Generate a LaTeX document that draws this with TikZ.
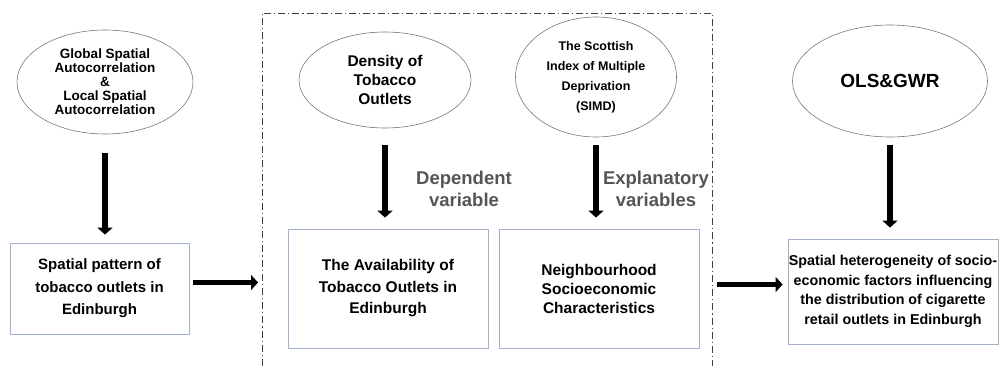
\documentclass[tikz,border=0pt]{standalone}
\usepackage{fontspec}
\setmainfont{Liberation Sans}
\usepackage{tikz}
\usetikzlibrary{shapes.geometric,arrows.meta}
\definecolor{ellline}{RGB}{120,120,120}
\definecolor{boxline}{RGB}{165,178,205}
\definecolor{labgrey}{RGB}{85,85,85}
\begin{document}
\begin{tikzpicture}[x=1pt,y=-1pt,
    method/.style={ellipse,draw=ellline,line width=0.6pt,inner sep=0pt,align=center,font=\bfseries},
    result/.style={rectangle,draw=boxline,line width=0.8pt,inner sep=0pt,align=center,font=\bfseries},
    bigarrow/.style={line width=5.5pt,-{Triangle[width=15pt,length=7pt]}},
    varlabel/.style={align=center,text=labgrey,font=\bfseries\fontsize{18.5}{22}\selectfont},
    frameline/.style={draw=black!75,line width=0.8pt,dash pattern=on 7pt off 3pt on 1.2pt off 3pt}]
  \useasboundingbox (0,0) rectangle (1000,366);
  \node[method,minimum width=176,minimum height=104,font=\bfseries\fontsize{13.5}{14}\selectfont] (ell1) at (105,82)
    {Global Spatial\\Autocorrelation\\\&\\Local Spatial\\Autocorrelation};
  \node[method,minimum width=172,minimum height=96,font=\bfseries\fontsize{15.5}{19}\selectfont] (ell2) at (385,80)
    {Density of\\Tobacco\\Outlets};
  \node[method,minimum width=161,minimum height=120,font=\bfseries\fontsize{12.5}{20}\selectfont] (ell3) at (596,77)
    {The Scottish\\Index of Multiple\\Deprivation\\(SIMD)};
  \node[method,minimum width=195,minimum height=112,font=\bfseries\fontsize{19}{22}\selectfont] (ell4) at (890,81)
    {OLS\&GWR};
  \node[result,minimum width=179,minimum height=91,font=\bfseries\fontsize{15}{22.5}\selectfont] (box1) at (99.5,288.5)
    {Spatial pattern of\\tobacco outlets in\\Edinburgh};
  \node[result,minimum width=200,minimum height=119,font=\bfseries\fontsize{15.5}{21.5}\selectfont] (box2) at (388,288.5)
    {The Availability of\\Tobacco Outlets in\\Edinburgh};
  \node[result,minimum width=200,minimum height=119,font=\bfseries\fontsize{15.5}{19}\selectfont] (box3) at (599,288.5)
    {Neighbourhood\\Socioeconomic\\Characteristics};
  \node[result,minimum width=210,minimum height=105,font=\bfseries\fontsize{14.3}{19.5}\selectfont] (box4) at (893,291.5)
    {Spatial heterogeneity of socio-\\economic factors influencing\\the distribution of cigarette\\retail outlets in Edinburgh};
  \node[varlabel] (dep) at (464,189) {Dependent\\variable};
  \node[varlabel] (expl) at (656,189) {Explanatory\\variables};
  % frame round the regression inputs
  \coordinate (fbl) at (262,366);
  \coordinate (ftr) at (712,13);
  \coordinate (fbr) at (712,366);
  \draw[frameline] (fbl) |- (ftr) -- (fbr);
  \draw[bigarrow,shorten <=19pt,shorten >=8pt] (ell1.south) -- (ell1.south |- box1.north);
  \draw[bigarrow,shorten <=17pt,shorten >=11pt] (ell2.south) -- (ell2.south |- box2.north);
  \draw[bigarrow,shorten <=8pt,shorten >=11pt] (ell3.south) -- (ell3.south |- box3.north);
  \draw[bigarrow,shorten <=8pt,shorten >=11pt] (ell4.south) -- (ell4.south |- box4.north);
  \draw[bigarrow,shorten <=4pt,shorten >=4pt] ([yshift=6]box1.east) -- ([yshift=6]box1.east -| fbl);
  \draw[bigarrow,shorten <=5pt,shorten >=5pt] ([yshift=4]box3.east -| fbr) -- ([yshift=4]box3.east -| box4.west);
\end{tikzpicture}
\end{document}
